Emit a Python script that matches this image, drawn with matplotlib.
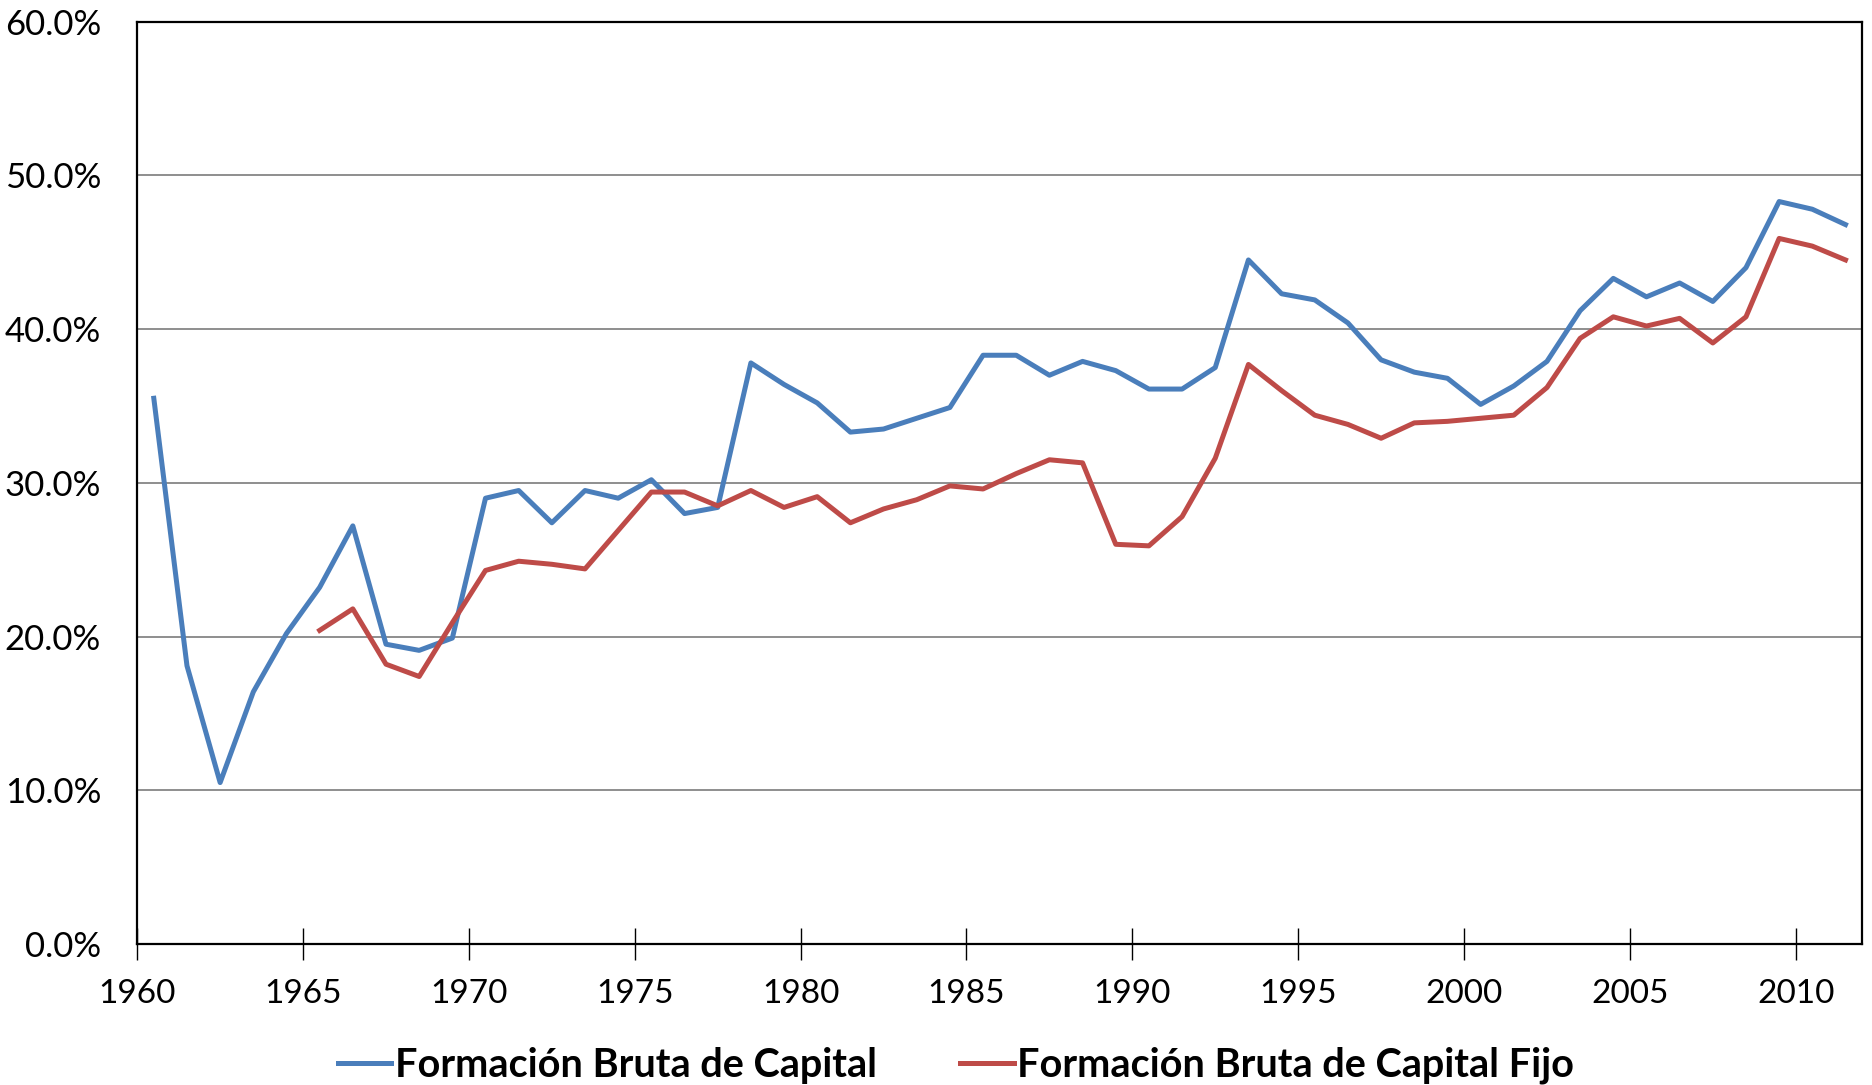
import numpy as np
import matplotlib
matplotlib.use("Agg")
from matplotlib import pyplot as plt
from matplotlib.ticker import FuncFormatter, MultipleLocator

years = list(range(1960, 2012))

# Formación Bruta de Capital (% )
fbk = [35.5, 18.1, 10.5, 16.4, 20.2, 23.2, 27.2, 19.5, 19.1, 19.9,
       29.0, 29.5, 27.4, 29.5, 29.0, 30.2, 28.0, 28.4, 37.8, 36.4,
       35.2, 33.3, 33.5, 34.2, 34.9, 38.3, 38.3, 37.0, 37.9, 37.3,
       36.1, 36.1, 37.5, 44.5, 42.3, 41.9, 40.4, 38.0, 37.2, 36.8,
       35.1, 36.3, 37.9, 41.2, 43.3, 42.1, 43.0, 41.8, 44.0, 48.3,
       47.8, 46.8]

# Formación Bruta de Capital Fijo (% ), sin datos antes de 1965
fbkf = [np.nan, np.nan, np.nan, np.nan, np.nan, 20.4, 21.8, 18.2, 17.4, 20.9,
        24.3, 24.9, 24.7, 24.4, 26.9, 29.4, 29.4, 28.5, 29.5, 28.4,
        29.1, 27.4, 28.3, 28.9, 29.8, 29.6, 30.6, 31.5, 31.3, 26.0,
        25.9, 27.8, 31.6, 37.7, 36.0, 34.4, 33.8, 32.9, 33.9, 34.0,
        34.2, 34.4, 36.2, 39.4, 40.8, 40.2, 40.7, 39.1, 40.8, 45.9,
        45.4, 44.5]

labels = ["Formación Bruta de Capital", "Formación Bruta de Capital Fijo"]
colors = ["#4A7EBB", "#BE4B48"]


def main():
    plt.rcParams["font.family"] = ["Lato", "DejaVu Sans"]

    fig = plt.figure(figsize=(18.72, 10.85), dpi=100)
    ax = fig.add_axes([0.0733, 0.13, 0.9214, 0.85])

    # points sit in the middle of each year slot
    x = np.array(years) + 0.5
    ax.plot(x, fbk, color=colors[0], lw=3.6, label=labels[0])
    ax.plot(x, fbkf, color=colors[1], lw=3.6, label=labels[1])

    ax.set_xlim(1960, 2012)
    ax.set_ylim(0, 60)
    ax.xaxis.set_major_locator(MultipleLocator(5))
    ax.yaxis.set_major_locator(MultipleLocator(10))
    ax.yaxis.set_major_formatter(FuncFormatter(lambda v, p: f"{v:.1f}%"))

    ax.grid(axis="y", color="#868686", lw=1.3)
    ax.set_axisbelow(True)
    for s in ax.spines.values():
        s.set_color("black")
        s.set_linewidth(1.6)

    ax.tick_params(axis="x", direction="inout", length=23, width=1.0,
                   labelsize=24, pad=14)
    ax.tick_params(axis="y", length=0, labelsize=25, pad=26)

    fig.legend(loc="center", bbox_to_anchor=(0.5105, 0.018), ncol=2, frameon=False,
               prop={"weight": "bold", "size": 28.5}, handlelength=1.36,
               handletextpad=0.08, columnspacing=2.1)

    fig.savefig("out.png", dpi=100)


if __name__ == "__main__":
    main()
